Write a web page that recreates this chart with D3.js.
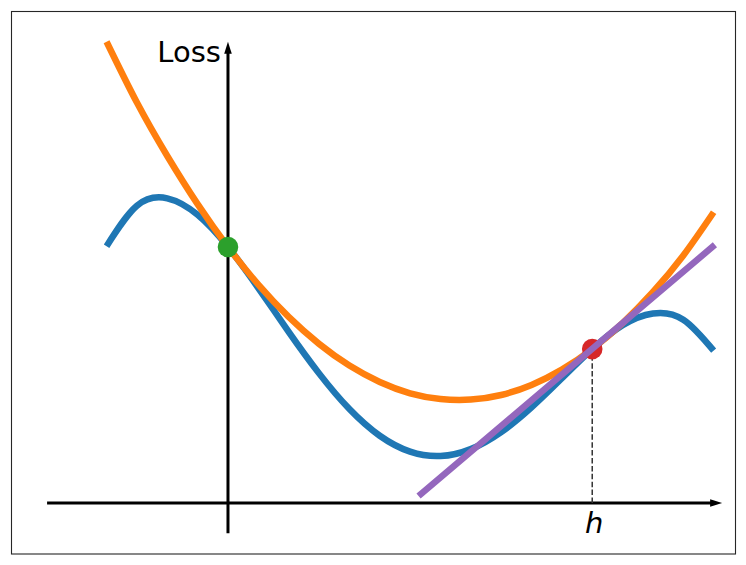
<!DOCTYPE html>
<html>
<head>
<meta charset="utf-8">
<script src="https://cdn.jsdelivr.net/npm/d3@7"></script>
<style>
  html, body { margin: 0; padding: 0; background: #fff; }
  svg { display: block; }
</style>
</head>
<body>
<svg id="canvas" width="746" height="565"></svg>
<script>
// sample points (x in units of h/3)
let xs = [-1, -0.75, -0.5, -0.25, 0, 0.25, 0.5, 0.75, 1, 1.25, 1.5, 1.75, 2, 2.25, 2.5, 2.75, 3, 3.25, 3.5, 3.75, 4]

let lossTrue = [2.116, 2.449, 2.510, 2.374, 2.109, 1.771, 1.410, 1.068, 0.774, 0.554, 0.423, 0.387, 0.444, 0.584, 0.788, 1.028, 1.268, 1.464, 1.561, 1.510, 1.255]

let lossQuad = [3.800, 3.299, 2.859, 2.462, 2.109, 1.799, 1.533, 1.311, 1.132, 0.997, 0.904, 0.857, 0.852, 0.890, 0.973, 1.099, 1.269, 1.482, 1.738, 2.039, 2.395]

let tangentX = [1.59, 3.99]
let tangentY = [0.075, 2.11]

let hValue = 3
let hLoss = 1.268
let startLoss = 2.109

let xLimits = [-1.783, 4.180]
let yLimits = [-0.420, 4.049]
let xAxisExtent = [-1.49, 4.07]
let yAxisExtent = [-0.25, 3.80]

let canvas = d3.select("#canvas")

let xScale = d3.scaleLinear().domain(xLimits).range([11.5, 735.5])
let yScale = d3.scaleLinear().domain(yLimits).range([554, 11.5])

let line = d3.line()
    .x(d => xScale(d[0]))
    .y(d => yScale(d[1]))

// frame
canvas.append("rect")
    .attr("x", 11.5)
    .attr("y", 11.5)
    .attr("width", 724)
    .attr("height", 542.5)
    .attr("fill", "none")
    .attr("stroke", "#262626")
    .attr("stroke-width", 1.1)

// axes with arrows
let ax0 = xScale(xAxisExtent[0]), ax1 = xScale(xAxisExtent[1]), ay = yScale(0)
canvas.append("line")
    .attr("x1", ax0).attr("x2", ax1 - 10)
    .attr("y1", ay).attr("y2", ay)
    .attr("stroke", "black").attr("stroke-width", 3)
canvas.append("path")
    .attr("d", "M" + ax1 + "," + ay + "L" + (ax1 - 12) + "," + (ay - 3.8) + "L" + (ax1 - 12) + "," + (ay + 3.8) + "Z")
    .attr("fill", "black")

let vx = xScale(0), vy0 = yScale(yAxisExtent[0]), vy1 = yScale(yAxisExtent[1])
canvas.append("line")
    .attr("x1", vx).attr("x2", vx)
    .attr("y1", vy0).attr("y2", vy1 + 10)
    .attr("stroke", "black").attr("stroke-width", 3)
canvas.append("path")
    .attr("d", "M" + vx + "," + vy1 + "L" + (vx - 3.8) + "," + (vy1 + 12) + "L" + (vx + 3.8) + "," + (vy1 + 12) + "Z")
    .attr("fill", "black")

// curves
canvas.append("path")
    .datum(d3.zip(xs, lossTrue))
    .attr("d", line.curve(d3.curveNatural))
    .attr("fill", "none")
    .attr("stroke", "#1f77b4")
    .attr("stroke-width", 6.5)

canvas.append("path")
    .datum(d3.zip(xs, lossQuad))
    .attr("d", line.curve(d3.curveNatural))
    .attr("fill", "none")
    .attr("stroke", "#ff7f0e")
    .attr("stroke-width", 6.5)

// dashed drop line at h
canvas.append("line")
    .attr("x1", xScale(hValue)).attr("x2", xScale(hValue))
    .attr("y1", yScale(0)).attr("y2", yScale(hLoss))
    .attr("stroke", "#333")
    .attr("stroke-width", 1.5)
    .attr("stroke-dasharray", "5.5,2.4")

canvas.append("circle")
    .attr("cx", xScale(0)).attr("cy", yScale(startLoss))
    .attr("r", 10.3)
    .attr("fill", "#2ca02c")

canvas.append("circle")
    .attr("cx", xScale(hValue)).attr("cy", yScale(hLoss))
    .attr("r", 10.3)
    .attr("fill", "#d62728")

canvas.append("path")
    .datum(d3.zip(tangentX, tangentY))
    .attr("d", line.curve(d3.curveLinear))
    .attr("fill", "none")
    .attr("stroke", "#9467bd")
    .attr("stroke-width", 6.5)
    .attr("stroke-linecap", "square")

// labels
canvas.append("text")
    .text("Loss")
    .attr("x", xScale(0) - 7)
    .attr("y", 61.5)
    .attr("text-anchor", "end")
    .attr("font-family", "DejaVu Sans")
    .attr("font-size", 29)

canvas.append("text")
    .text("h")
    .attr("x", xScale(hValue) + 2)
    .attr("y", 533)
    .attr("text-anchor", "middle")
    .attr("font-family", "DejaVu Sans")
    .attr("font-style", "italic")
    .attr("font-size", 29)
</script>
</body>
</html>
